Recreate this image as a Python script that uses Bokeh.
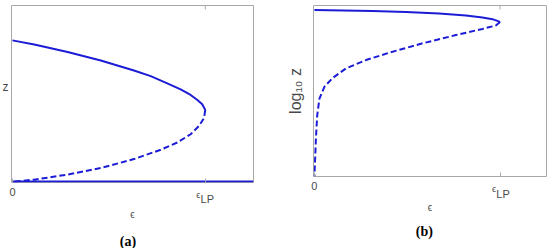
import math
from bokeh.plotting import figure
from bokeh.models import Range1d, LinearAxis, FixedTicker, Label
from bokeh.layouts import row
from bokeh.embed import file_html
from bokeh.resources import INLINE

# ---------------- data (eps in units of eps_LP) ----------------
# panel (a): z versus eps
a_stable_eps = [0.0, 0.113, 0.286, 0.458, 0.630, 0.717, 0.803, 0.872, 0.924, 0.959, 0.984, 1.0]
a_stable_z = [0.802, 0.778, 0.736, 0.688, 0.631, 0.599, 0.558, 0.524, 0.492, 0.463, 0.439, 0.407]
a_unstable_eps = [1.0, 0.993, 0.967, 0.924, 0.855, 0.769, 0.630, 0.458, 0.286, 0.113, 0.0]
a_unstable_z = [0.407, 0.360, 0.316, 0.269, 0.222, 0.181, 0.128, 0.077, 0.040, 0.011, 0.0]
a_trivial_eps = [0.0, 1.25]
a_trivial_z = [0.0, 0.0]

# panel (b): log10 z versus eps (normalised vertical scale)
b_stable_eps = [0.0, 0.314, 0.493, 0.672, 0.816, 0.905, 0.959, 1.0]
b_stable_logz = [0.974, 0.968, 0.962, 0.953, 0.941, 0.930, 0.920, 0.904]
b_unstable_eps = [1.0, 0.977, 0.905, 0.762, 0.583, 0.403, 0.278, 0.170, 0.099, 0.054, 0.027, 0.015, 0.008, 0.0]
b_unstable_logz = [0.904, 0.883, 0.863, 0.827, 0.779, 0.724, 0.681, 0.632, 0.577, 0.525, 0.456, 0.358, 0.221, 0.0]

tick_values = [0, 1]
tick_labels = {0: "0", 1: ""}

# ---------------- styles ----------------
BLUE = "#1c1cd6"
GRAY_TXT = "#4a4a4a"
GRAY_LINE = "#a8a8a8"
SANS = "Liberation Sans"
SERIF = "Liberation Serif"
TICK_PX = 4


def make_fig(fw, fh, left, right, top, bottom, yr, label_standoff):
    p = figure(frame_width=fw, frame_height=fh,
               min_border_left=left, min_border_right=right,
               min_border_top=top, min_border_bottom=bottom,
               x_range=Range1d(-0.005, 1.25), y_range=yr,
               x_axis_location=None, y_axis_location=None,
               output_backend="svg", toolbar_location=None)
    p.outline_line_color = GRAY_LINE
    p.outline_line_width = 1
    p.background_fill_color = "white"
    p.border_fill_color = "white"
    p.grid.grid_line_color = None
    bottom_ax = LinearAxis(ticker=FixedTicker(ticks=tick_values),
                           major_label_overrides=tick_labels,
                           axis_label="\u03f5")
    bottom_ax.axis_line_color = None
    bottom_ax.major_tick_in = TICK_PX
    bottom_ax.major_tick_out = 0
    bottom_ax.major_tick_line_color = GRAY_LINE
    bottom_ax.minor_tick_line_color = None
    bottom_ax.major_label_text_font = SANS
    bottom_ax.major_label_text_font_size = "11px"
    bottom_ax.major_label_text_color = GRAY_TXT
    bottom_ax.major_label_standoff = 5
    bottom_ax.axis_label_text_font = SANS
    bottom_ax.axis_label_text_font_size = "10px"
    bottom_ax.axis_label_text_font_style = "normal"
    bottom_ax.axis_label_text_color = GRAY_TXT
    bottom_ax.axis_label_standoff = label_standoff
    p.add_layout(bottom_ax, "below")
    # mirrored tick mark at eps_LP on the upper edge of the box
    span = yr.end - yr.start
    d = TICK_PX * span / fh
    p.segment(x0=[tick_values[1]], y0=[yr.end], x1=[tick_values[1]], y1=[yr.end - d],
              line_color=GRAY_LINE, line_width=1)
    return p


def lbl(p, side, x, y, text, dx=0, dy=0, size="11px", font=SANS, color=GRAY_TXT,
        angle=0.0, style="normal"):
    # annotations placed in a side panel are not clipped to the frame
    p.add_layout(Label(x=x, y=y, x_units="data", y_units="data",
                       x_offset=dx, y_offset=dy, text=text,
                       text_font=font, text_font_size=size,
                       text_font_style=style, text_color=color,
                       text_align="center", text_baseline="middle",
                       angle=angle), side)


# ---------------- panel (a) ----------------
pa = make_fig(242, 177, 11, 22, 2, 69, Range1d(-0.005, 1.0), 10)
pa.line(a_stable_eps, a_stable_z, line_color=BLUE, line_width=2)
pa.line(a_unstable_eps, a_unstable_z, line_color=BLUE, line_width=2, line_dash="6 3")
pa.line(a_trivial_eps, a_trivial_z, line_color=BLUE, line_width=2)

ya0 = -0.005
lbl(pa, "right", 1.0, ya0, "\u03f5", dx=-7, dy=-12, size="9px")
lbl(pa, "right", 1.0, ya0, "LP", dx=2, dy=-16, size="11px")
lbl(pa, "below", 0.599, ya0, "(a)", dy=-59, size="14px", font=SERIF, color="black", style="bold")
lbl(pa, "left", -0.005, 0.537, "z", dx=-6, size="12px")

# ---------------- panel (b) ----------------
pb = make_fig(233, 171, 38, 4, 5, 72, Range1d(0.0, 1.0), 9)
pb.line(b_stable_eps, b_stable_logz, line_color=BLUE, line_width=2)
pb.line(b_unstable_eps, b_unstable_logz, line_color=BLUE, line_width=2, line_dash="6 3")

yb0 = 0.0
lbl(pb, "left", 1.0, yb0, "\u03f5", dx=-6, dy=-12, size="9px")
lbl(pb, "below", 1.0, yb0, "LP", dx=3, dy=-17, size="11px")
lbl(pb, "below", 0.592, yb0, "(b)", dy=-55, size="14px", font=SERIF, color="black", style="bold")
lbl(pb, "left", -0.005, 0.50, "log\u2081\u2080 z", dx=-18, size="16px", angle=math.pi / 2)

layout = row(pa, pb)
open("out.html", "w").write(file_html(layout, INLINE))
